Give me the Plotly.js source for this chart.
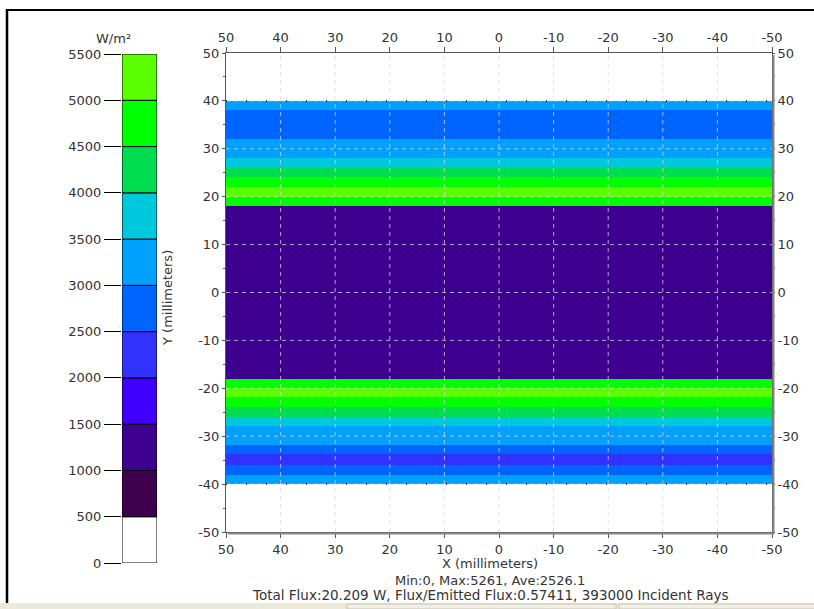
<!DOCTYPE html>
<html>
<head>
<meta charset="utf-8">
<script src="https://cdn.plot.ly/plotly-3.0.1.min.js"></script>
<style>html,body{margin:0;padding:0;background:#fff;}#chart{width:814px;height:609px;}</style>
</head>
<body>
<div id="chart"></div>
<script>
// ---- data ----
// flux colour levels (W/m²) and the colour of each level band
const levels = [0, 500, 1000, 1500, 2000, 2500, 3000, 3500, 4000, 4500, 5000, 5500];
const levelColors = ['#FFFFFF', '#3F004F', '#3D008F', '#4000FF', '#3232FF', '#0064FF',
                     '#00A0FF', '#00C8DC', '#00DC50', '#00FF00', '#5AFF00'];
// irradiance bands along Y (bottom -> top): edges in mm and flux in each band
const yEdges = [-50, -40, -38, -36.1, -33.8, -31.9, -27.8, -26, -23.9, -21.8, -20, -18,
                18, 20, 22.1, 24.2, 26, 28, 32, 38, 40, 50];
const bandFlux = [0, 3250, 2750, 2250, 2750, 3250, 3750, 4250, 4750, 5250, 4750,
                  1250, 4750, 5250, 4750, 4250, 3750, 3250, 2750, 3250, 0];
const xEdges = [50, -50];
const xTicks = [50, 40, 30, 20, 10, 0, -10, -20, -30, -40, -50];
const yTicks = [50, 40, 30, 20, 10, 0, -10, -20, -30, -40, -50];
const detectorEdges = [-40, 40];
const statsLine = 'Min:0, Max:5261, Ave:2526.1';
const fluxLine = 'Total Flux:20.209 W, Flux/Emitted Flux:0.57411, 393000 Incident Rays';

// ---- helpers ----
const W = 814, H = 609;
const px = v => v / W;
const py = v => 1 - v / H;
const FONT = 'DejaVu Sans, Arial, sans-serif';
const TXT = '#333';

const nLev = levelColors.length;
const colorscale = [];
levelColors.forEach((c, i) => { colorscale.push([i / nLev, c]); colorscale.push([(i + 1) / nLev, c]); });

const heat = {
  type: 'heatmap', x: xEdges, y: yEdges, z: bandFlux.map(v => [v]),
  colorscale: colorscale, zmin: levels[0], zmax: levels[levels.length - 1],
  showscale: false, zsmooth: false, hoverinfo: 'skip', xaxis: 'x', yaxis: 'y'
};
const dummy = {
  type: 'scatter', mode: 'markers', x: xTicks, y: yTicks, marker: {opacity: 0},
  hoverinfo: 'skip', showlegend: false, xaxis: 'x2', yaxis: 'y2'
};
const cbar = {
  type: 'bar', x: levelColors.map(() => 'cb'), base: levels.slice(0, -1),
  y: levels.slice(1).map((v, i) => v - levels[i]), width: 1,
  marker: {color: levelColors, line: {color: '#000', width: 1}},
  hoverinfo: 'skip', showlegend: false, xaxis: 'x3', yaxis: 'y3'
};

const shapes = [];
// grid lines
xTicks.slice(1, -1).forEach(t => shapes.push({type: 'line', xref: 'x', yref: 'y', x0: t, x1: t,
  y0: yTicks[yTicks.length - 1], y1: yTicks[0], layer: 'above',
  line: {color: 'rgba(215,215,215,0.75)', width: 1, dash: '4px,4px'}}));
yTicks.slice(1, -1).forEach(t => shapes.push({type: 'line', xref: 'x', yref: 'y', y0: t, y1: t,
  x0: xTicks[0], x1: xTicks[xTicks.length - 1], layer: 'above',
  line: {color: 'rgba(215,215,215,0.75)', width: 1, dash: '4px,4px'}}));
// dotted detector edges
detectorEdges.forEach(t => shapes.push({type: 'line', xref: 'x', yref: 'y', y0: t, y1: t,
  x0: xTicks[0], x1: xTicks[xTicks.length - 1], layer: 'above',
  line: {color: '#000', width: 1.5, dash: '1px,19px'}}));
// plot shadow
shapes.push({type: 'line', xref: 'paper', yref: 'paper', x0: px(773.5), x1: px(773.5), y0: py(55), y1: py(534), line: {color: '#888', width: 2}});
shapes.push({type: 'line', xref: 'paper', yref: 'paper', x0: px(228), x1: px(774), y0: py(533.5), y1: py(533.5), line: {color: '#888', width: 2}});
// window frame
shapes.push({type: 'rect', xref: 'paper', yref: 'paper', x0: 0, x1: 1, y0: 0, y1: py(603), fillcolor: '#ECE9D8', line: {width: 0}});
shapes.push({type: 'rect', xref: 'paper', yref: 'paper', x0: px(347), x1: px(616), y0: 0, y1: py(604), fillcolor: '#F1EFE4', line: {color: '#C8C4B4', width: 1}});
shapes.push({type: 'rect', xref: 'paper', yref: 'paper', x0: px(619), x1: px(816), y0: 0, y1: py(604), fillcolor: '#F1EFE4', line: {color: '#C8C4B4', width: 1}});
shapes.push({type: 'line', xref: 'paper', yref: 'paper', x0: px(6), x1: 1, y0: py(10), y1: py(10), line: {color: '#000', width: 2}});
shapes.push({type: 'line', xref: 'paper', yref: 'paper', x0: px(7), x1: px(7), y0: py(9), y1: py(603), line: {color: '#000', width: 2.5}});

const tickFont = {family: FONT, size: 13, color: TXT};
const tickText = arr => arr.map(v => String(v));
const baseAx = {showgrid: false, zeroline: false, showline: true, linecolor: '#555', linewidth: 1,
  tickfont: tickFont, ticks: 'outside', tickcolor: '#555', fixedrange: true};
const ann = (text, x, y, extra) => Object.assign({text: text, x: x, y: y, xref: 'paper', yref: 'paper',
  showarrow: false, font: {family: FONT, size: 13, color: TXT}, xanchor: 'center', yanchor: 'middle'}, extra || {});

const layout = {
  width: W, height: H, autosize: false,
  margin: {l: 0, r: 0, t: 0, b: 0, pad: 0},
  paper_bgcolor: '#fff', plot_bgcolor: 'rgba(0,0,0,0)',
  showlegend: false, bargap: 0,
  xaxis: Object.assign({}, baseAx, {domain: [px(226), px(772)], anchor: 'y', range: [xTicks[0], xTicks[xTicks.length - 1]],
    tickvals: xTicks, ticktext: tickText(xTicks), ticklen: 5}),
  xaxis2: Object.assign({}, baseAx, {overlaying: 'x', side: 'top', anchor: 'y', range: [xTicks[0], xTicks[xTicks.length - 1]],
    tickvals: xTicks, ticktext: tickText(xTicks), ticklen: 5}),
  yaxis: Object.assign({}, baseAx, {domain: [py(532), py(53)], anchor: 'x', range: [yTicks[yTicks.length - 1], yTicks[0]],
    tickvals: yTicks, ticktext: tickText(yTicks), ticklen: 3, minor: {dtick: 5, ticks: 'outside', ticklen: 2, tickcolor: '#555'}}),
  yaxis2: Object.assign({}, baseAx, {overlaying: 'y', side: 'right', anchor: 'x', range: [yTicks[yTicks.length - 1], yTicks[0]],
    tickvals: yTicks, ticktext: tickText(yTicks), ticklen: 2, minor: {dtick: 5, ticks: 'outside', ticklen: 2, tickcolor: '#555'}}),
  xaxis3: {domain: [px(122), px(157)], anchor: 'y3', visible: false, type: 'category', range: [-0.5, 0.5], fixedrange: true},
  yaxis3: {domain: [py(563), py(54)], anchor: 'x3', range: [levels[0], levels[levels.length - 1]], tickvals: levels,
    ticktext: tickText(levels),
    ticks: 'outside', ticklen: 17, tickcolor: '#000', showline: false, showgrid: false, zeroline: false,
    tickfont: tickFont, fixedrange: true},
  shapes: shapes,
  annotations: [
    ann('W/m²', px(113), py(38)),
    ann('Y (millimeters)', px(167), py(298), {textangle: -90}),
    ann('X (millimeters)', px(490), py(563)),
    ann(statsLine, px(490), py(580)),
    ann(fluxLine, px(490), py(595), {font: {family: FONT, size: 13.5, color: TXT}})
  ]
};

Plotly.newPlot('chart', [heat, dummy, cbar], layout, {displayModeBar: false, staticPlot: true});
</script>
</body>
</html>
